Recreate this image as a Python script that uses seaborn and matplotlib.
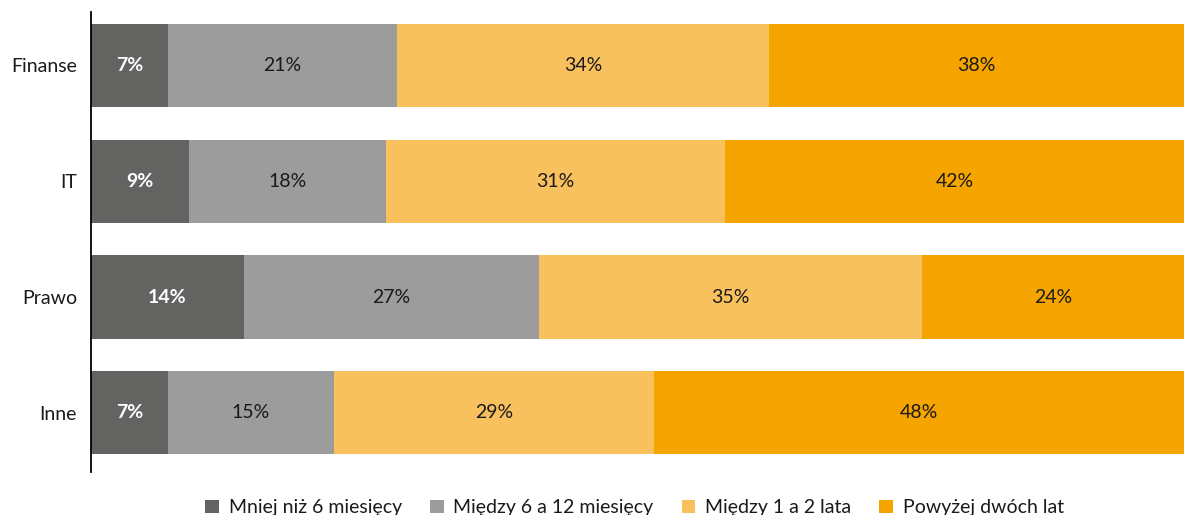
import matplotlib
matplotlib.use("Agg")
import matplotlib.pyplot as plt
import numpy as np
import pandas as pd
import seaborn as sns

categories = ["Finanse", "IT", "Prawo", "Inne"]
series_names = ["Mniej niż 6 miesięcy", "Między 6 a 12 miesięcy",
                "Między 1 a 2 lata", "Powyżej dwóch lat"]
less_6m = [7, 9, 14, 7]
m6_12 = [21, 18, 27, 15]
y1_2 = [34, 31, 35, 29]
over_2y = [38, 42, 24, 48]
colors = ["#636362", "#9c9c9c", "#f9c15e", "#f6a400"]

sns.set_theme(style="white")
plt.rcParams["font.family"] = ["Lato", "DejaVu Sans"]

values = np.array([less_6m, m6_12, y1_2, over_2y], dtype=float)  # series x category
shares = values / values.sum(axis=0) * 100  # 100% stacked
cum = np.cumsum(shares, axis=0)

fig = plt.figure(figsize=(11.84, 5.15), dpi=100)
ax = fig.add_axes([91 / 1184, 43 / 515, 1 - 91 / 1184, 460 / 515])

# Overlapping cumulative bars, widest first, give the stacked look
for i in range(len(series_names) - 1, -1, -1):
    df = pd.DataFrame({"cat": categories, "end": cum[i]})
    sns.barplot(data=df, x="end", y="cat", orient="h", color=colors[i],
                saturation=1, width=0.717, ax=ax, label=series_names[i],
                linewidth=0, legend=False)

fs = 14
for i in range(len(series_names)):
    start = cum[i] - shares[i]
    for j, cat in enumerate(categories):
        centre = start[j] + shares[i][j] / 2
        if i == 0:
            ax.text(centre, j, f"{int(values[i][j])}%", ha="center", va="center",
                    color="white", fontsize=fs, fontweight="bold")
        else:
            ax.text(centre, j, f"{int(values[i][j])}%", ha="center", va="center",
                    color="#1a1a1a", fontsize=fs)

ax.set_xlim(0, 100)
ax.set_ylim(3.51, -0.46)
ax.set_xlabel("")
ax.set_ylabel("")
ax.set_xticks([])
ax.tick_params(axis="y", length=0, labelsize=fs, pad=10, colors="#1a1a1a")
for s in ["top", "right", "bottom"]:
    ax.spines[s].set_visible(False)
ax.spines["left"].set_color("#000000")
ax.spines["left"].set_linewidth(1.3)
ax.set_facecolor("white")

handles, labels = ax.get_legend_handles_labels()
if ax.get_legend() is not None:
    ax.get_legend().remove()
order = [labels.index(n) for n in series_names]
leg = fig.legend([handles[k] for k in order], [labels[k] for k in order],
                 loc="center", bbox_to_anchor=(0.536, 0.014), ncol=4, frameon=False,
                 fontsize=fs, handlelength=0.7, handleheight=0.7,
                 handletextpad=0.5, columnspacing=1.45)
for t in leg.get_texts():
    t.set_color("#1a1a1a")

fig.savefig("out.png", dpi=100, facecolor="white")
